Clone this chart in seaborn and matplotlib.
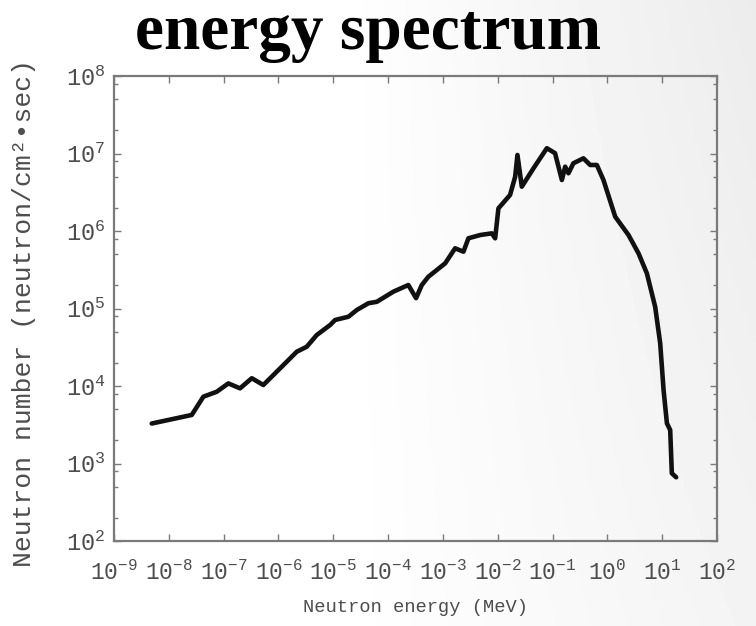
import numpy as np
import pandas as pd
import matplotlib
matplotlib.use("Agg")
import matplotlib.pyplot as plt
from matplotlib.ticker import LogLocator, LogFormatterMathtext, NullFormatter
import seaborn as sns

# ---- data ----
energy_mev = [4.88e-9, 2.62e-8, 4.27e-8, 7.48e-8, 1.22e-7, 1.99e-7, 3.26e-7, 5.30e-7,
              9.31e-7, 2.16e-6, 3.28e-6, 5.00e-6, 8.75e-6, 1.08e-5, 1.89e-5, 2.69e-5,
              4.38e-5, 6.22e-5, 1.25e-4, 2.34e-4, 3.24e-4, 4.12e-4, 5.43e-4, 1.10e-3,
              1.67e-3, 2.37e-3, 2.92e-3, 4.78e-3, 7.80e-3, 8.97e-3, 1.03e-2, 1.68e-2,
              2.08e-2, 2.29e-2, 2.75e-2, 4.49e-2, 7.87e-2, 1.11e-1, 1.48e-1, 1.70e-1,
              1.95e-1, 2.40e-1, 3.66e-1, 4.85e-1, 6.43e-1, 8.49e-1, 1.39, 2.43,
              3.70, 5.26, 7.45, 9.20, 10.6, 12.2, 14.0, 15.0, 18.0]
neutron_number = [3.28e3, 4.23e3, 7.28e3, 8.43e3, 1.08e4, 9.33e3, 1.26e4, 1.03e4,
                  1.53e4, 2.77e4, 3.21e4, 4.55e4, 6.12e4, 7.11e4, 7.83e4, 9.57e4,
                  1.17e5, 1.22e5, 1.65e5, 2.01e5, 1.36e5, 2.01e5, 2.57e5, 3.83e5,
                  5.98e5, 5.41e5, 8.05e5, 8.87e5, 9.33e5, 8.05e5, 1.96e6, 2.92e6,
                  5.02e6, 9.57e6, 3.73e6, 6.44e6, 1.17e7, 1.01e7, 4.55e6, 6.76e6,
                  5.56e6, 7.48e6, 8.67e6, 7.11e6, 7.11e6, 4.55e6, 1.53e6, 8.87e5,
                  5.15e5, 2.84e5, 1.05e5, 3.56e4, 8.87e3, 3.30e3, 2.70e3, 748, 664]

title_text = "energy spectrum"
x_label = "Neutron energy (MeV)"
y_label = "Neutron number (neutron/cm²•sec)"

df = pd.DataFrame({"energy": energy_mev, "number": neutron_number})

sns.set_style("ticks")
plt.rcParams["font.family"] = ["Liberation Mono", "DejaVu Sans Mono", "DejaVu Sans"]
plt.rcParams["mathtext.fontset"] = "custom"
plt.rcParams["mathtext.rm"] = "Liberation Mono"
plt.rcParams["mathtext.it"] = "Liberation Mono"
plt.rcParams["mathtext.bf"] = "Liberation Mono"

W, H = 756, 626
fig = plt.figure(figsize=(W / 100, H / 100), dpi=100)

# soft background gradient
bg = fig.add_axes([0, 0, 1, 1], zorder=-10)
gx = np.linspace(0, 1, 200)
gy = np.linspace(0, 1, 200)
GX, GY = np.meshgrid(gx, gy)
shade = 1 - 0.075 * np.clip((GX - 0.45) / 0.55, 0, 1) * (0.6 + 0.4 * GY)
bg.imshow(shade, cmap="gray", vmin=0, vmax=1, extent=[0, 1, 0, 1],
          aspect="auto", origin="lower", interpolation="bilinear")
bg.set_axis_off()

ax = fig.add_axes([114 / W, 1 - 541 / H, (717 - 114) / W, (541 - 76) / H])
ax.set_facecolor("none")

sns.lineplot(data=df, x="energy", y="number", ax=ax, color="#111111",
             linewidth=3.3, estimator=None, sort=False)

ax.set_xscale("log")
ax.set_yscale("log")
ax.set_xlim(1e-9, 1e2)
ax.set_ylim(1e2, 1e8)

gray = "#7a7a7a"
txt = "#4d4d4d"
for s in ax.spines.values():
    s.set_color(gray)
    s.set_linewidth(1.6)
    s.set_visible(True)

ax.xaxis.set_major_locator(LogLocator(base=10, numticks=20))
ax.xaxis.set_minor_locator(LogLocator(base=10, subs=[], numticks=20))
ax.xaxis.set_major_formatter(LogFormatterMathtext())
ax.yaxis.set_major_locator(LogLocator(base=10, numticks=20))
ax.yaxis.set_minor_locator(LogLocator(base=10, subs=[2, 5, 8], numticks=20))
ax.yaxis.set_major_formatter(LogFormatterMathtext())
ax.yaxis.set_minor_formatter(NullFormatter())

ax.tick_params(which="both", direction="in", top=True, right=True, color=gray, width=1.0)
ax.tick_params(which="major", length=5)
ax.tick_params(which="minor", length=3)
ax.tick_params(axis="x", which="major", labelsize=16.5, labelcolor=txt, pad=14)
ax.tick_params(axis="y", which="major", labelsize=17, labelcolor=txt, pad=6)

ax.set_xlabel(x_label, fontsize=13.5, color=txt)
ax.xaxis.set_label_coords(0.5, -(607 - 541) / (541 - 76))
ax.xaxis.label.set_va("center")
ax.set_ylabel(y_label, fontsize=19, color=txt)
ax.yaxis.set_label_coords((24 - 114) / (717 - 114), (541 - 313) / (541 - 76))
ax.yaxis.label.set_va("center")

fig.text(368 / W, 1 - 49 / H, title_text, ha="center", va="baseline",
         fontsize=47, fontweight="bold",
         family=["Liberation Serif", "DejaVu Serif"], color="#000000")

fig.savefig("out.png", dpi=100)
